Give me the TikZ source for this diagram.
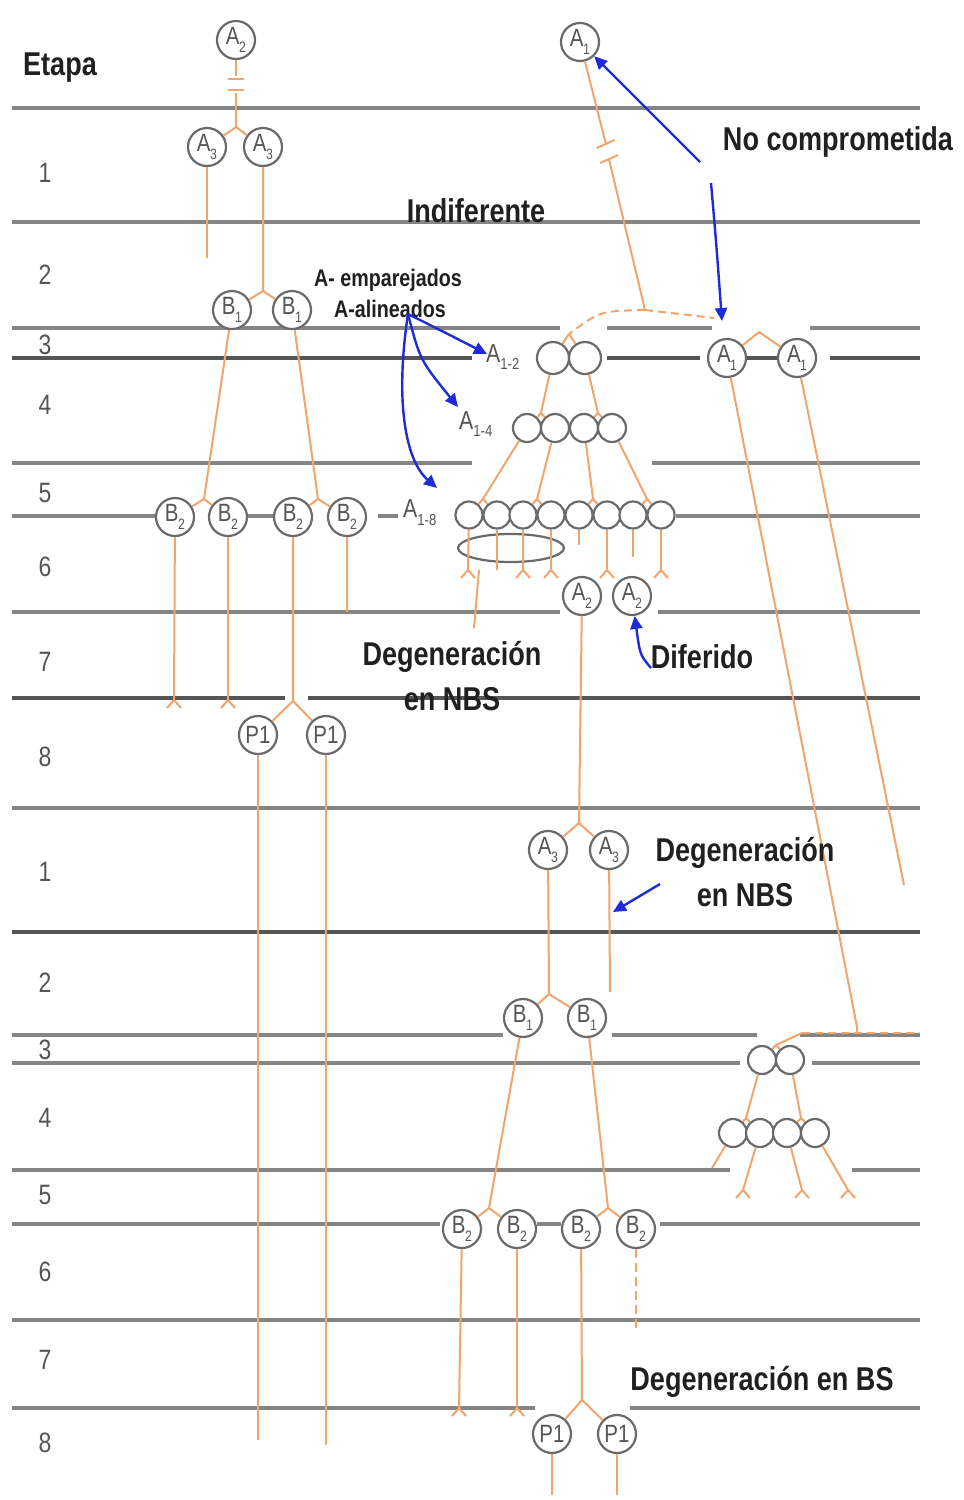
\documentclass[tikz,border=0pt]{standalone}
\usepackage{fontspec}
\usetikzlibrary{arrows.meta}
\setmainfont{Liberation Sans}
\newfontfamily\nf{Liberation Sans}[FakeStretch=0.82]
\definecolor{hl}{HTML}{858585}
\definecolor{hd}{HTML}{555555}
\definecolor{cb}{HTML}{6A6A6A}
\definecolor{org}{HTML}{EFA56C}
\definecolor{blu}{HTML}{1F2BD8}
\definecolor{txt}{HTML}{202020}
\newcommand\csub[2]{#1\kern-0.5pt\raisebox{-0.3em}{\fontsize{15}{15}\selectfont #2}}
\newcommand\lsub[2]{#1\raisebox{-0.3em}{\fontsize{16}{16}\selectfont #2}}
\tikzset{
  hln/.style={draw=hl,line width=3.5pt},
  hdk/.style={draw=hd,line width=3.5pt},
  big/.style={circle,draw=cb,line width=2.2pt,fill=white,minimum size=38pt,inner sep=0pt,font=\nf\fontsize{25}{25}\selectfont,text=hd},
  sm/.style={circle,draw=cb,line width=2.2pt,fill=white,minimum size=#1,inner sep=0pt},
  ol/.style={draw=org,line width=2pt},
  old/.style={draw=org,line width=2pt,dash pattern=on 8pt off 5pt},
  ba/.style={draw=blu,line width=2.4pt,-{Triangle[length=13pt,width=12pt]}},
  lab/.style={font=\nf\bfseries\fontsize{33}{36}\selectfont,text=txt,align=center,inner sep=0pt},
  slab/.style={font=\nf\bfseries\fontsize{24}{26}\selectfont,text=txt,inner sep=0pt},
  alab/.style={font=\nf\fontsize{26}{26}\selectfont,text=hd,inner sep=0pt},
  stg/.style={font=\nf\fontsize{28}{28}\selectfont,text=hd,inner sep=0pt},
}
\newcommand\splay[1]{\draw[ol] (#1) -- ++(-7,8) (#1) -- ++(7,8);}
\begin{document}
\begin{tikzpicture}[x=1pt,y=-1pt]
\useasboundingbox[fill=white] (0,0) rectangle (964,1500);
% ---- stage lines
\foreach \y/\a/\b in {108/12/920,222/12/920,328/12/560,328/607/712,328/810/920,
  463/12/472,463/652/920,516/12/158,516/247/274,516/378/398,516/676/920,
  612/12/560,612/658/920,808/12/920,1035/12/503,1035/612/757,1035/800/920,1063/12/740,1063/812/920,
  1170/12/730,1170/852/920,1224/12/440,1224/537/561,1224/660/920,1320/12/920,
  1408/12/535,1408/630/920}
  \draw[hln] (\a,\y) -- (\b,\y);
\foreach \y/\a/\b in {358/12/472,358/607/700,358/746/778,358/830/920,
  698/12/285,698/308/920,932/12/920}
  \draw[hdk] (\a,\y) -- (\b,\y);
% ---- stage labels
\node[lab] (etapa) at (60,68) {Etapa};
\foreach \n/\y/\t in {s1/173/1,s2/275/2,s3/345/3,s4/405/4,s5/493/5,s6/567/6,s7/662/7,s8/757/8,
  t1/872/1,t2/983/2,t3/1050/3,t4/1118/4,t5/1195/5,t6/1272/6,t7/1360/7,t8/1443/8}
  \node[stg] (\n) at (45,\y) {\t};
% ---- left lineage nodes
\node[big] (a2t) at (236,40) {\csub{A}{2}};
\node[big] (a3l) at (207,147) {\csub{A}{3}};
\node[big] (a3r) at (263,147) {\csub{A}{3}};
\node[big] (b1l) at (232,310) {\csub{B}{1}};
\node[big] (b1r) at (292,310) {\csub{B}{1}};
\node[big] (b2a) at (175,517) {\csub{B}{2}};
\node[big] (b2b) at (228,517) {\csub{B}{2}};
\node[big] (b2c) at (293,517) {\csub{B}{2}};
\node[big] (b2d) at (347,517) {\csub{B}{2}};
\node[big] (p1a) at (258,735) {P1};
\node[big] (p1b) at (326,735) {P1};
% ---- middle nodes
\node[big] (a1t) at (580,42) {\csub{A}{1}};
\node[sm=32pt] (m2a) at (553,358) {};
\node[sm=32pt] (m2b) at (585,358) {};
\foreach \i/\x in {a/527,b/555,c/584,d/612} \node[sm=28pt] (r4\i) at (\x,428) {};
\foreach \i/\x in {a/469,b/497,c/523,d/551,e/579,f/607,g/633,h/661} \node[sm=27pt] (r8\i) at (\x,515) {};
\node[big] (ra1a) at (727,358) {\csub{A}{1}};
\node[big] (ra1b) at (797,358) {\csub{A}{1}};
\node[big] (ma2a) at (582,596) {\csub{A}{2}};
\node[big] (ma2b) at (632,596) {\csub{A}{2}};
\node[big] (ma3a) at (548,850) {\csub{A}{3}};
\node[big] (ma3b) at (609,850) {\csub{A}{3}};
\node[big] (mb1a) at (523,1018) {\csub{B}{1}};
\node[big] (mb1b) at (587,1018) {\csub{B}{1}};
\node[big] (mb2a) at (462,1229) {\csub{B}{2}};
\node[big] (mb2b) at (517,1229) {\csub{B}{2}};
\node[big] (mb2c) at (581,1229) {\csub{B}{2}};
\node[big] (mb2d) at (636,1229) {\csub{B}{2}};
\node[big] (mp1a) at (552,1434) {P1};
\node[big] (mp1b) at (617,1434) {P1};
% ---- bottom right small tree
\node[sm=28pt] (rb2a) at (762,1060) {};
\node[sm=28pt] (rb2b) at (790,1060) {};
\foreach \i/\x in {a/733,b/760,c/787,d/815} \node[sm=28pt] (rb4\i) at (\x,1133) {};
% ---- ellipse
\draw[draw=cb,line width=2.2pt] (511,548) ellipse [x radius=53,y radius=14];
% ---- coordinates
\coordinate (c1) at (236,76); \coordinate (c2) at (236,93); \coordinate (ap1) at (236,127);
\coordinate (e1) at (207,258); \coordinate (ap2) at (263,291);
\coordinate (ap3) at (204,499); \coordinate (ap4) at (318,499);
\coordinate (e2) at (174,700); \coordinate (e3) at (228,700); \coordinate (ap5) at (293,701);
\coordinate (e4) at (347,612); \coordinate (e5) at (258,1440); \coordinate (e6) at (326,1445);
\coordinate (c3) at (605.6,143); \coordinate (c4) at (609.2,160); \coordinate (bend1) at (645,310);
\coordinate (d1) at (714,318); \coordinate (apm) at (569,334);
\coordinate (ap6) at (541,413); \coordinate (ap7) at (598,413);
\coordinate (ap8) at (483,499); \coordinate (ap9) at (537,499); \coordinate (ap10) at (593,499); \coordinate (ap11) at (647,499);
\coordinate (apr) at (759,332);
\coordinate (f1) at (468,570); \coordinate (f2) at (497,570); \coordinate (f3) at (523,570); \coordinate (f4) at (551,570);
\coordinate (f5) at (579,545); \coordinate (f6) at (607,570); \coordinate (f7) at (633,557); \coordinate (f8) at (661,570);
\coordinate (g1) at (479,570); \coordinate (g2) at (474,628);
\coordinate (ap12) at (579,823); \coordinate (ap13) at (549,994); \coordinate (e7) at (610,992);
\coordinate (ap14) at (489,1208); \coordinate (ap15) at (608,1208);
\coordinate (e8) at (459,1408); \coordinate (e9) at (517,1408); \coordinate (ap16) at (582,1400);
\coordinate (e10) at (636,1332); \coordinate (e11) at (552,1495); \coordinate (e12) at (617,1495);
\coordinate (bend2) at (857,1027); \coordinate (d2) at (920,1033); \coordinate (d3) at (802,1033);
\coordinate (apr2) at (776,1045); \coordinate (e13) at (904,885);
\coordinate (ap17) at (746,1118); \coordinate (ap18) at (801,1118);
\coordinate (h1) at (712,1168); \coordinate (h2) at (743,1190); \coordinate (h3) at (802,1190); \coordinate (h4) at (848,1190);
% ---- orange lineage lines (left)
\draw[ol] (a2t) -- (c1) (c2) -- (ap1);
\draw[ol] (c1) ++(-8,3) -- ++(16,0) (c2) ++(-8,-3) -- ++(16,0);
\draw[ol] (ap1) -- (a3l) (ap1) -- (a3r);
\draw[ol] (a3l) -- (e1);
\draw[ol] (a3r) -- (ap2) (ap2) -- (b1l) (ap2) -- (b1r);
\draw[ol] (b1l) -- (ap3) (ap3) -- (b2a) (ap3) -- (b2b);
\draw[ol] (b1r) -- (ap4) (ap4) -- (b2c) (ap4) -- (b2d);
\draw[ol] (b2a) -- (e2); \splay{e2}
\draw[ol] (b2b) -- (e3); \splay{e3}
\draw[ol] (b2c) -- (ap5) (ap5) -- (p1a) (ap5) -- (p1b);
\draw[ol] (b2d) -- (e4);
\draw[ol] (p1a) -- (e5) (p1b) -- (e6);
% ---- orange (middle top)
\draw[ol] (a1t) -- (c3) (c4) -- (bend1);
\draw[ol] (c3) ++(-9,5) -- ++(18,-8) (c4) ++(-9,3) -- ++(18,-8);
\draw[old] (bend1) -- (d1);
\draw[old] (bend1) .. controls (600,311) .. (apm);
\draw[ol] (apm) -- (m2a) (apm) -- (m2b);
\draw[ol] (m2a) -- (ap6) (ap6) -- (r4a) (ap6) -- (r4b);
\draw[ol] (m2b) -- (ap7) (ap7) -- (r4c) (ap7) -- (r4d);
\draw[ol] (r4a) -- (ap8) (ap8) -- (r8a) (ap8) -- (r8b);
\draw[ol] (r4b) -- (ap9) (ap9) -- (r8c) (ap9) -- (r8d);
\draw[ol] (r4c) -- (ap10) (ap10) -- (r8e) (ap10) -- (r8f);
\draw[ol] (r4d) -- (ap11) (ap11) -- (r8g) (ap11) -- (r8h);
\foreach \i/\f in {a/f1,b/f2,c/f3,d/f4,e/f5,f/f6,g/f7,h/f8} \draw[ol] (r8\i) -- (\f);
\splay{f1} \splay{f3} \splay{f4} \splay{f6} \splay{f8}
\draw[ol] (g1) -- (g2);
\draw[ol] (apr) -- (ra1a) (apr) -- (ra1b);
% ---- orange (middle lower)
\draw[ol] (ma2a) -- (ap12) (ap12) -- (ma3a) (ap12) -- (ma3b);
\draw[ol] (ma3a) -- (ap13) (ap13) -- (mb1a) (ap13) -- (mb1b);
\draw[ol] (ma3b) -- (e7);
\draw[ol] (mb1a) -- (ap14) (ap14) -- (mb2a) (ap14) -- (mb2b);
\draw[ol] (mb1b) -- (ap15) (ap15) -- (mb2c) (ap15) -- (mb2d);
\draw[ol] (mb2a) -- (e8); \splay{e8}
\draw[ol] (mb2b) -- (e9); \splay{e9}
\draw[ol] (mb2c) -- (ap16) (ap16) -- (mp1a) (ap16) -- (mp1b);
\draw[ol,dash pattern=on 9pt off 5pt] (mb2d) -- (e10);
\draw[ol] (mp1a) -- (e11) (mp1b) -- (e12);
% ---- orange (right)
\draw[ol] (ra1a) -- (bend2);
\draw[old] (d3) -- (d2);
\draw[ol] (bend2) -- ++(0,5);
\draw[ol] (d3) -- (apr2) (apr2) -- (rb2a) (apr2) -- (rb2b);
\draw[ol] (ra1b) -- (e13);
\draw[ol] (rb2a) -- (ap17) (ap17) -- (rb4a) (ap17) -- (rb4b);
\draw[ol] (rb2b) -- (ap18) (ap18) -- (rb4c) (ap18) -- (rb4d);
\draw[ol] (rb4a) -- (h1) (rb4b) -- (h2) (rb4c) -- (h3) (rb4d) -- (h4);
\splay{h2} \splay{h3} \splay{h4}
% ---- text labels
\node[lab] (indif) at (476,211) {Indiferente};
\node[lab] (nocomp) at (838,142) {No comprometida};
\node[slab] (empar) at (388,280) {A- emparejados};
\node[slab] (aline) at (390,309) {A-alineados};
\node[alab,anchor=west] (l12) at (486,357) {\lsub{A}{1-2}};
\node[alab,anchor=west] (l14) at (459,424) {\lsub{A}{1-4}};
\node[alab,anchor=west] (l18) at (403,513) {\lsub{A}{1-8}};
\node[lab] (deg1) at (452,657) {Degeneración};
\node[lab] (deg1b) at (452,699) {en NBS};
\node[lab] (dif) at (702,657) {Diferido};
\node[lab] (deg2) at (745,853) {Degeneración};
\node[lab] (deg2b) at (745,895) {en NBS};
\node[lab] (deg3) at (762,1382) {Degeneración en BS};
% ---- blue arrows
\coordinate (b1s) at (700,162); \coordinate (b2s) at (711,183); \coordinate (b2e) at (722,321);
\coordinate (b3s) at (408,314); \coordinate (b3e) at (487,354); \coordinate (b4e) at (458,407); \coordinate (b5e) at (437,488);
\coordinate (b6s) at (651,668); \coordinate (b7s) at (660,884); \coordinate (b7e) at (613,912);
\draw[ba] (b1s) -- (a1t);
\draw[ba] (b2s) .. controls (716,240) .. (b2e);
\draw[ba] (b3s) .. controls (440,330) .. (b3e);
\draw[ba] (b3s) .. controls (420,360) .. (b4e);
\draw[ba] (b3s) .. controls (395,400) and (405,460) .. (b5e);
\draw[ba] (b6s) .. controls (640,655) .. (ma2b);
\draw[ba] (b7s) -- (b7e);
\end{tikzpicture}
\end{document}
